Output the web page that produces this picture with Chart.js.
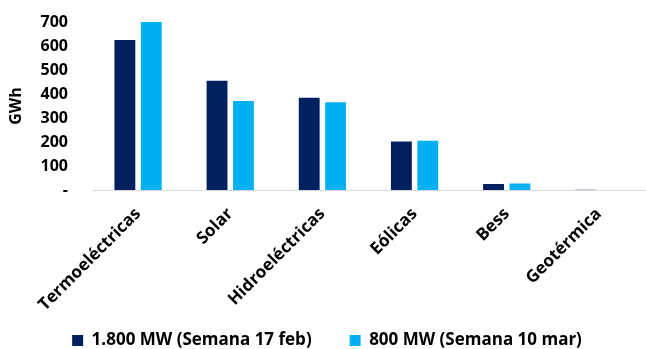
<!DOCTYPE html>
<html>
<head>
<meta charset="utf-8">
<script src="https://cdn.jsdelivr.net/npm/chart.js@4"></script>
<style>
  html, body { margin: 0; padding: 0; background: #fff; }
  #wrap { width: 646px; height: 349px; }
</style>
</head>
<body>
<div id="wrap"><canvas id="chart"></canvas></div>
<script>
// generación semanal por tecnología (GWh)
const categories = ['Termoeléctricas', 'Solar', 'Hidroeléctricas', 'Eólicas', 'Bess', 'Geotérmica'];
const semana17feb = [625, 455, 384, 202, 25, 1];
const semana10mar = [700, 371, 366, 205, 27, 0];
const yTicks = [0, 100, 200, 300, 400, 500, 600, 700];

const font = { family: 'Open Sans', size: 16, weight: 'bold' };
const catFont = { family: 'Open Sans', size: 17, weight: 'bold' };
const legendFont = { family: 'Open Sans', size: 17, weight: 'bold' };

const ctx = document.getElementById('chart').getContext('2d');
new Chart(ctx, {
  type: 'bar',
  data: {
    labels: categories,
    datasets: [
      {
        label: '1.800 MW (Semana 17 feb)',
        data: semana17feb,
        backgroundColor: '#002060',
        categoryPercentage: 0.573,
        barPercentage: 0.79,
      },
      {
        label: '800 MW (Semana 10 mar)',
        data: semana10mar,
        backgroundColor: '#00B0F0',
        categoryPercentage: 0.573,
        barPercentage: 0.79,
      },
    ],
  },
  options: {
    responsive: true,
    maintainAspectRatio: false,
    animation: false,
    layout: { padding: { top: 22, right: 1, left: 9, bottom: -10 } },
    plugins: {
      tooltip: { enabled: false },
      legend: {
        position: 'bottom',
        labels: {
          color: '#000',
          font: legendFont,
          boxWidth: 11,
          boxHeight: 11,
          padding: 38,
        },
      },
    },
    scales: {
      x: {
        grid: { display: false, drawTicks: false },
        border: { color: '#d9d9d9', width: 1 },
        ticks: {
          color: '#000',
          font: catFont,
          minRotation: 45,
          maxRotation: 45,
          padding: 14,
        },
        afterFit: (scale) => {
          scale.height = 104;
          // long rotated names run past the axis box, so don't clip them
          scale._computeLabelArea = () => undefined;
        },
      },
      y: {
        min: 0,
        max: 700,
        afterBuildTicks: (scale) => { scale.ticks = yTicks.map((v) => ({ value: v })); },
        grid: { display: false, drawTicks: false },
        border: { display: false },
        ticks: {
          color: '#000',
          font: font,
          padding: 24,
          autoSkip: false,
          callback: (v) => (v === 0 ? '-' : v),
        },
        title: {
          display: true,
          text: 'GWh',
          color: '#000',
          font: font,
          padding: { top: -2, bottom: 0 },
        },
        afterFit: (scale) => {
          scale.width = 83;
          // the tick padding would otherwise push the plot top down
          scale.paddingTop = 0;
        },
      },
    },
  },
});
</script>
</body>
</html>
